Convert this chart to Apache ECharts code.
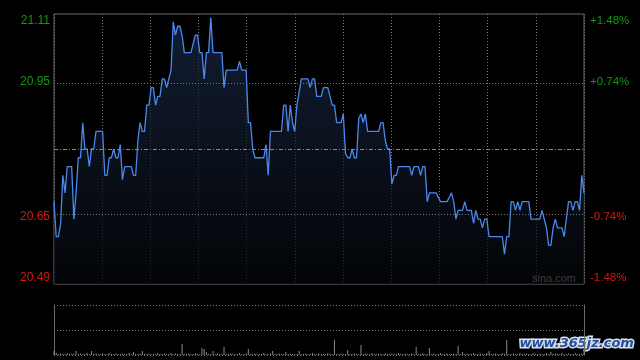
<!DOCTYPE html>
<html><head><meta charset="utf-8">
<script src="https://cdn.jsdelivr.net/npm/echarts@6/dist/echarts.min.js"></script>
<style>html,body{margin:0;padding:0;background:#000}#c{width:640px;height:360px}</style>
</head><body><div id="c"></div>
<script>
const price = [
20.68,20.60,20.60,20.63,20.74,20.70,20.76,20.76,20.76,20.64,
20.70,20.78,20.78,20.86,20.80,20.80,20.76,20.80,20.80,20.84,
20.84,20.84,20.84,20.74,20.74,20.78,20.78,20.80,20.78,20.78,
20.81,20.73,20.76,20.76,20.76,20.76,20.74,20.74,20.82,20.86,
20.84,20.84,20.90,20.90,20.94,20.94,20.90,20.92,20.92,20.96,
20.96,20.94,20.96,20.98,21.09,21.06,21.08,21.08,21.06,21.02,
21.02,21.02,21.02,21.04,21.06,21.06,21.02,21.02,20.96,21.02,
21.02,21.10,21.02,21.02,21.02,21.02,21.02,20.94,20.98,20.98,
20.98,20.98,20.98,20.98,21.00,20.98,20.98,20.98,20.86,20.86,
20.80,20.78,20.78,20.78,20.78,20.78,20.81,20.74,20.84,20.84,
20.84,20.84,20.84,20.84,20.90,20.90,20.84,20.90,20.86,20.84,
20.90,20.93,20.96,20.96,20.96,20.96,20.94,20.96,20.96,20.92,
20.92,20.92,20.94,20.94,20.94,20.92,20.90,20.90,20.86,20.86,
20.86,20.88,20.79,20.78,20.78,20.80,20.78,20.78,20.87,20.88,
20.86,20.88,20.84,20.84,20.84,20.84,20.84,20.84,20.86,20.86,
20.82,20.80,20.80,20.72,20.74,20.74,20.76,20.76,20.76,20.76,
20.76,20.76,20.74,20.76,20.76,20.76,20.74,20.76,20.76,20.68,
20.70,20.70,20.70,20.70,20.69,20.68,20.68,20.68,20.68,20.69,
20.70,20.68,20.64,20.66,20.66,20.66,20.68,20.66,20.66,20.66,
20.63,20.66,20.64,20.64,20.62,20.64,20.64,20.60,20.60,20.60,
20.60,20.60,20.60,20.60,20.56,20.60,20.60,20.68,20.68,20.66,
20.68,20.66,20.68,20.68,20.68,20.68,20.64,20.64,20.64,20.64,
20.64,20.66,20.64,20.62,20.58,20.58,20.62,20.64,20.62,20.62,
20.62,20.60,20.64,20.68,20.68,20.66,20.68,20.68,20.66,20.74,
20.70
];
const volume = [
4,2.3,1,1.5,1,1,2,1,1,1.5,
4,1,1.5,1,1,2,1,4,1,1.5,
1,1,1.5,1,1,2,1,1,1.5,1,
1,1.5,1,1,2,1,3,1,1,1.5,
4,1,1,1.5,1,1,1,2,1,1,
1.5,1,1,2,1,1.5,1,1,11,1,
1,1.5,1,1,2,1,1,7,6,3,
1,1,4,1,1.5,1,1,8,1,1,
1.5,1,1,1,2,1,1,1.5,6,1,
1,1.5,1,1,1,2,1,1,1.5,4,
1,1,1.5,1,1,3,1,1.5,1,1,
1,4,1,1,1.5,1,1,2,1,1,
1.5,1,1,1,2,1,1,15,1,1,
1.5,1,1,5,1,1,1.5,1,1,10,
1,1.5,1,1,2,1,1,1.5,1,1,
2,1,1,1.5,1,1,2,1,1,1.5,
1,1,1.5,1,8,1,1,2,1,1,
7,1,1.5,1,1,2,1,1,1.5,1,
1,1.5,1,9,1,3,1,1.5,1,1,
2,1,1,1.5,1,1,2,4,1,1,
1.5,1,1,2,1,15,1,1,1.5,1,
1,2,1,1,1.5,1,1,2,1,1,
1.5,1,1,2,1,3,1,1.5,1,1,
2,1,1,1.5,1,1,2,1,1,1.5,
3
];
const prevClose = 20.80;
const priceMin = 20.492, priceMax = 21.108;
const gridPrices = [20.646, 20.954];
const labelSteps = [-4, -2, 0, 2, 4];
const leftLabels = ['20.49', '20.65', '', '20.95', '21.11'];
const rightLabels = ['-1.48%', '-0.74%', '', '+0.74%', '+1.48%'];

const GREEN = '#119a11', RED = '#d41a10', GRID = '#777', BORDER = '#6a6a6a';
function lab(arr) {
  return function (v) {
    const k = labelSteps.indexOf(Math.round(v));
    if (k < 0) return '';
    const t = arr[k];
    if (v >= 3.5) return '\n' + t;
    if (v <= -3.5) return t + '\n';
    return t;
  };
}
const colorFn = v => (v > 0 ? GREEN : RED);
const N = price.length - 1;

const chart = echarts.init(document.getElementById('c'), null, { renderer: 'canvas' });
chart.setOption({
  backgroundColor: '#000',
  animation: false,
  grid: [
    { left: 54, width: 530, top: 14, height: 270, show: true, borderColor: BORDER, borderWidth: 1, backgroundColor: 'transparent' },
    { left: 54, width: 530, top: 305, height: 50, show: false }
  ],
  xAxis: [
    { type: 'value', gridIndex: 0, min: 0, max: N, interval: N / 11,
      axisLine: { show: false }, axisTick: { show: false }, axisLabel: { show: false },
      splitLine: { show: true, lineStyle: { color: GRID, type: [1, 2], width: 1 } } },
    { type: 'value', gridIndex: 1, min: 0, max: N, show: false }
  ],
  yAxis: [
    { type: 'value', gridIndex: 0, min: priceMin, max: priceMax, show: false },
    { type: 'value', gridIndex: 0, min: -4, max: 4, interval: 2, position: 'left',
      axisLine: { show: false }, axisTick: { show: false }, splitLine: { show: false },
      axisLabel: { margin: 4, fontSize: 12, fontFamily: 'Liberation Sans, Arial', lineHeight: 13, color: colorFn, formatter: lab(leftLabels) } },
    { type: 'value', gridIndex: 0, min: -4, max: 4, interval: 2, position: 'right',
      axisLine: { show: false }, axisTick: { show: false }, splitLine: { show: false },
      axisLabel: { margin: 6, fontSize: 11.5, fontFamily: 'Liberation Sans, Arial', lineHeight: 13, color: colorFn, formatter: lab(rightLabels) } },
    { type: 'value', gridIndex: 1, min: 0, max: 50, interval: 25, position: 'left',
      axisLine: { show: true, lineStyle: { color: BORDER } }, axisTick: { show: false }, axisLabel: { show: false },
      splitLine: { show: true, lineStyle: { color: GRID, type: [1, 2] } } },
    { type: 'value', gridIndex: 1, min: 0, max: 50, position: 'right',
      axisLine: { show: true, lineStyle: { color: BORDER } }, axisTick: { show: false }, axisLabel: { show: false },
      splitLine: { show: false } }
  ],
  series: [
    { type: 'line', xAxisIndex: 0, yAxisIndex: 0, symbol: 'none', smooth: false,
      data: price.map((v, i) => [i, v]),
      lineStyle: { color: '#4a88ee', width: 1.3 },
      areaStyle: { origin: 'start', color: new echarts.graphic.LinearGradient(0, 0, 0, 1, [
        { offset: 0, color: '#1a2a48' }, { offset: 1, color: '#040609' }]) },
      markLine: { silent: true, symbol: 'none', label: { show: false }, animation: false,
        data: [
          { yAxis: gridPrices[0], lineStyle: { color: GRID, type: [1, 2], width: 1 } },
          { yAxis: gridPrices[1], lineStyle: { color: GRID, type: [1, 2], width: 1 } },
          { yAxis: prevClose, lineStyle: { color: '#888', type: [4, 2, 1, 2], width: 1 } }
        ] } },
    { type: 'bar', xAxisIndex: 1, yAxisIndex: 3, barWidth: 1,
      data: volume.map((v, i) => [i, v]),
      itemStyle: { color: '#8a8a8a' } }
  ],
  graphic: [
    { type: 'text', left: 532, top: 273, silent: true,
      style: { text: 'sina.com', fill: '#b4b4b4', font: '11px "Liberation Sans", Arial' } },
    { type: 'text', left: 518, top: 336, silent: true,
      style: { text: 'www.365jz.com', fill: '#1f4f9e', stroke: '#d8dde8', lineWidth: 3,
        font: 'italic bold 13px "DejaVu Sans"' } }
  ]
});
</script></body></html>
